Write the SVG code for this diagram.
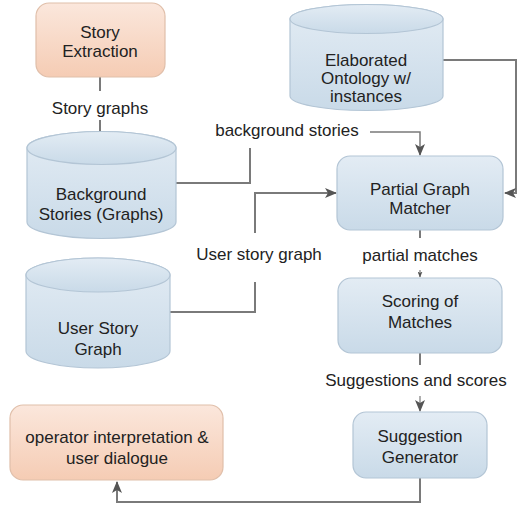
<svg xmlns="http://www.w3.org/2000/svg" width="518" height="506" viewBox="0 0 518 506">
<defs>
<linearGradient id="gb" x1="0" y1="0" x2="0" y2="1"><stop offset="0" stop-color="#e3ecf4"/><stop offset="1" stop-color="#c9dae8"/></linearGradient>
<linearGradient id="gp" x1="0" y1="0" x2="0" y2="1"><stop offset="0" stop-color="#fbe7dc"/><stop offset="1" stop-color="#f5ccb4"/></linearGradient>
<marker id="ah" viewBox="0 0 12 10" refX="11" refY="5" markerWidth="12" markerHeight="10" markerUnits="userSpaceOnUse" orient="auto">
<path d="M0,0 L12,5 L0,10 L3,5 z" fill="#555"/>
</marker>
<marker id="ahs" viewBox="0 0 12 10" refX="11" refY="5" markerWidth="6" markerHeight="5" markerUnits="userSpaceOnUse" orient="auto">
<path d="M0,0 L12,5 L0,10 L3,5 z" fill="#555"/>
</marker>
</defs>
<style>
.b{fill:url(#gb);stroke:#b3c5d5;stroke-width:1.2}
.p{fill:url(#gp);stroke:#e0bfaa;stroke-width:1.2}
.t{font-family:"Liberation Sans",Arial,sans-serif;font-size:17px;fill:#222;text-anchor:middle}
.c{fill:none;stroke:#7a7a7a;stroke-width:2}
</style>

<g id="connectors">
<path class="c" d="M100,77 V91"/>
<path class="c" d="M100,120 V147" marker-end="url(#ah)"/>
<path class="c" d="M176,183 H250 V148"/>
<path class="c" d="M370,132 H420 V155" marker-end="url(#ah)" style="stroke-width:1.5"/>
<path class="c" d="M443,60 H516 V193 H505" marker-end="url(#ah)"/>
<path class="c" d="M170,312 H255 V282"/>
<path class="c" d="M255,233 V193 H336" marker-end="url(#ah)"/>
<path class="c" d="M420,230 V238"/>
<path class="c" d="M420,270 V277" marker-end="url(#ahs)" style="stroke-width:1.2"/>
<path class="c" d="M420,353 V365"/>
<path class="c" d="M420,396 V411" marker-end="url(#ah)" style="stroke-width:1.2"/>
<path class="c" d="M420,478 V502 H117 V482" marker-end="url(#ah)"/>
<text class="t" x="100" y="114">Story graphs</text>
<text class="t" x="287" y="136">background stories</text>
<text class="t" x="259" y="260">User story graph</text>
<text class="t" x="420" y="261">partial matches</text>
<text class="t" x="416" y="386">Suggestions and scores</text>
</g>

<g id="story-extraction">
<rect class="p" x="36" y="3" width="129" height="74" rx="13"/>
<text class="t" x="100" y="38">Story</text>
<text class="t" x="100" y="57">Extraction</text>
</g>

<g id="background-stories">
<path class="b" d="M27,148 A74.5,16.5 0 0 1 176,148 V222 A74.5,16.5 0 0 1 27,222 Z"/>
<ellipse class="b" cx="101.5" cy="148" rx="74.5" ry="16.5"/>
<text class="t" x="101" y="200">Background</text>
<text class="t" x="101" y="220">Stories (Graphs)</text>
</g>

<g id="elaborated-ontology">
<path class="b" d="M290,19 A76.5,14.5 0 0 1 443,19 V96 A76.5,14.5 0 0 1 290,96 Z"/>
<ellipse class="b" cx="366.5" cy="19" rx="76.5" ry="14.5"/>
<text class="t" x="366" y="66">Elaborated</text>
<text class="t" x="366" y="84">Ontology w/</text>
<text class="t" x="366" y="102">instances</text>
</g>

<g id="partial-graph-matcher">
<rect class="b" x="337" y="156" width="166" height="74" rx="13"/>
<text class="t" x="420" y="195">Partial Graph</text>
<text class="t" x="420" y="214">Matcher</text>
</g>

<g id="user-story-graph">
<path class="b" d="M26,275 A72,17 0 0 1 170,275 V351 A72,17 0 0 1 26,351 Z"/>
<ellipse class="b" cx="98" cy="275" rx="72" ry="17"/>
<text class="t" x="98" y="334">User Story</text>
<text class="t" x="98" y="355">Graph</text>
</g>

<g id="scoring-of-matches">
<rect class="b" x="338" y="278" width="164" height="75" rx="13"/>
<text class="t" x="420" y="307">Scoring of</text>
<text class="t" x="420" y="328">Matches</text>
</g>

<g id="suggestion-generator">
<rect class="b" x="353" y="412" width="134" height="66" rx="13"/>
<text class="t" x="420" y="442">Suggestion</text>
<text class="t" x="420" y="463">Generator</text>
</g>

<g id="operator-interpretation">
<rect class="p" x="10" y="405" width="213" height="75" rx="13"/>
<text class="t" x="117" y="443">operator interpretation &amp;</text>
<text class="t" x="117" y="464">user dialogue</text>
</g>
</svg>
